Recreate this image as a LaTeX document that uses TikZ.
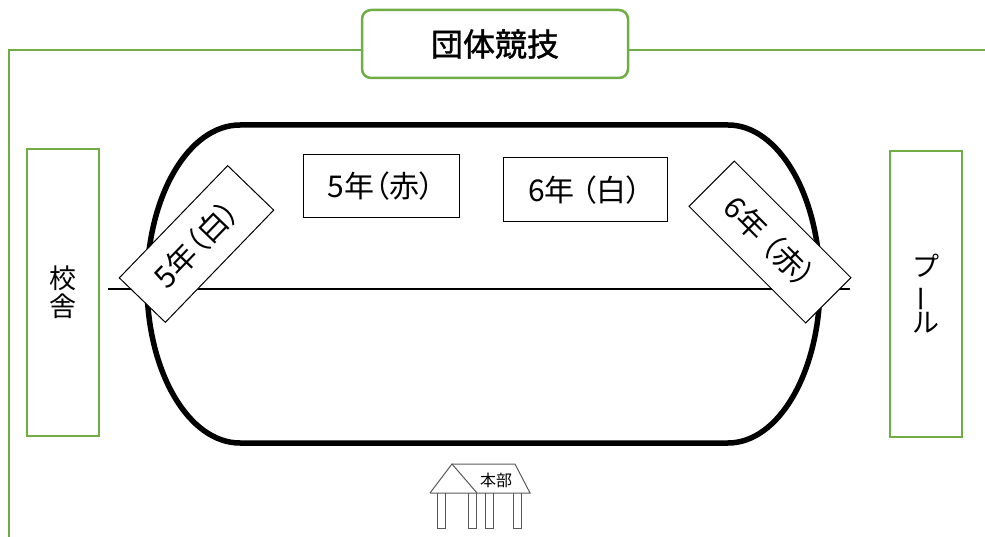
\documentclass[tikz,border=0pt]{standalone}
\usepackage{fontspec}
\setmainfont{Noto Sans CJK JP}
\newfontfamily\boxfont[RawFeature=+palt]{Noto Sans CJK JP}
\newfontfamily\titlefont[FakeBold=1.2]{Noto Sans CJK JP}
\usepackage{tikz}
\definecolor{fieldgreen}{HTML}{70AD47}
\definecolor{tentgray}{HTML}{595959}
\tikzset{
  fieldline/.style={draw=fieldgreen, line width=2.5pt},
  sidebox/.style={draw=fieldgreen, line width=2.5pt, fill=white, minimum width=72pt, minimum height=287pt, inner sep=0pt, align=center, font=\fontsize{27}{28}\selectfont},
  classbox/.style={draw=black, line width=1pt, fill=white, minimum height=64pt, inner sep=0pt, font=\boxfont\fontsize{30}{31}\selectfont},
  tentline/.style={draw=tentgray, line width=1pt},
}

\begin{document}
\begin{tikzpicture}[x=1pt, y=1pt]
    \useasboundingbox (0,0) rectangle (985,-537);
    % field border and title
    \node[fieldline, rounded corners=9pt, fill=white, minimum width=266pt, minimum height=68pt, font=\titlefont\fontsize{32}{34}\selectfont] (title) at (495,-44) {団体競技};
    \coordinate (fl) at (9,-50);
    \coordinate (fr) at (985,-50);
    \draw[fieldline] (title.west |- fl) -- (fl) -- (9,-537);
    \draw[fieldline] (title.east |- fr) -- (fr);
    \node[sidebox] (school) at (63,-292.5) {校\\舎};
    \node[sidebox, minimum height=286pt] (pool) at (926,-294) {プ\\\rotatebox[origin=c]{90}{ー}\\ル};
    % track
    \draw[black, line width=1.5pt] (108,-289) -- (850,-289);
    \draw[black, line width=5.5pt] (240,-125) -- (728,-125) arc[start angle=90, end angle=-90, x radius=92, y radius=159] -- (240,-443) arc[start angle=270, end angle=90, x radius=93, y radius=159] -- cycle;
    % classes
    \node[classbox, minimum width=156pt, minimum height=63pt] (red5) at (381,-186.5) {5年（赤）};
    \node[classbox, minimum width=164pt] (white6) at (585,-190) {6年 （白）};
    \node[classbox, minimum width=156pt, rotate=46] (white5) at (196.5,-244) {5年（白）};
    \node[classbox, minimum width=165pt, rotate=-45] (red6) at (770,-242) {6年 （赤）};
    % tent
    \draw[tentline] (430,-493) -- (452,-464) -- (477,-493);
    \draw[tentline] (452,-464) -- (515,-464) -- (530,-493) -- (430,-493);
    \foreach \px in {437,468,485,513}
        \draw[tentline] (\px,-493) -- (\px,-528) -- (\px+8,-528) -- (\px+8,-493);
    \node[font=\fontsize{16}{16}\selectfont] (honbu) at (496,-480) {本部};
\end{tikzpicture}
\end{document}
